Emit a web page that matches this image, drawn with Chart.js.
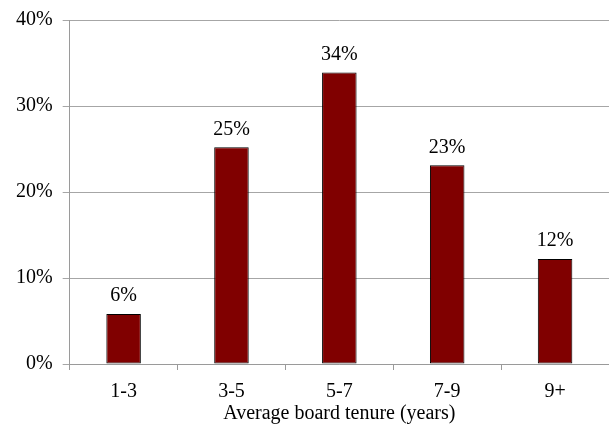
<!DOCTYPE html>
<html>
<head>
<meta charset="utf-8">
<script src="https://cdn.jsdelivr.net/npm/chart.js@4/dist/chart.umd.min.js"></script>
<style>
  html, body { margin: 0; padding: 0; background: #fff; overflow: hidden; }
  #wrap { width: 609px; height: 427px; }
</style>
</head>
<body>
<div id="wrap"><canvas id="tenureChart"></canvas></div>
<script>
// Average board tenure distribution
const categories = ['1-3', '3-5', '5-7', '7-9', '9+'];
const shares = [5.8, 25.2, 33.9, 23.1, 12.2];   // % of boards
const yTicks = [0, 10, 20, 30, 40];

const FONT = '"Liberation Serif", "Times New Roman", serif';

// draws the % label above each bar
const barLabels = {
  id: 'barLabels',
  afterDatasetsDraw(chart) {
    const ctx = chart.ctx;
    const meta = chart.getDatasetMeta(0);
    ctx.save();
    ctx.font = '20px ' + FONT;
    ctx.fillStyle = '#000';
    ctx.textAlign = 'center';
    ctx.textBaseline = 'bottom';
    meta.data.forEach((bar, i) => {
      ctx.fillText(Math.round(shares[i]) + '%', bar.x, bar.y - 8);
    });
    ctx.restore();
  }
};

new Chart(document.getElementById('tenureChart'), {
  type: 'bar',
  data: {
    labels: categories,
    datasets: [{
      data: shares,
      backgroundColor: '#800000',
      borderColor: '#000',
      borderWidth: 1,
      borderSkipped: false,
      barPercentage: 0.32,
      categoryPercentage: 1
    }]
  },
  options: {
    responsive: true,
    maintainAspectRatio: false,
    animation: false,
    layout: { padding: { left: 6, top: -2, right: 0, bottom: 3 } },
    plugins: { legend: { display: false }, tooltip: { enabled: false } },
    scales: {
      x: {
        afterFit: axis => { axis.height = 60; },
        grid: { offset: true, drawOnChartArea: false, color: '#9a9a9a', tickLength: 6 },
        border: { color: '#9a9a9a' },
        ticks: { color: '#000', font: { family: FONT, size: 20, lineHeight: 1 }, padding: 12 },
        title: {
          display: true, text: 'Average board tenure (years)',
          color: '#000', font: { family: FONT, size: 20, lineHeight: 1 }, padding: { top: 0, bottom: 0 }
        }
      },
      y: {
        min: 0, max: 40,
        afterBuildTicks: axis => { axis.ticks = yTicks.map(v => ({ value: v })); },
        grid: { color: '#a6a6a6', tickLength: 7 },
        border: { color: '#9a9a9a' },
        ticks: {
          color: '#000', font: { family: FONT, size: 20, lineHeight: 1 }, padding: 10,
          callback: v => v + '%'
        }
      }
    }
  },
  plugins: [barLabels]
});
</script>
</body>
</html>
